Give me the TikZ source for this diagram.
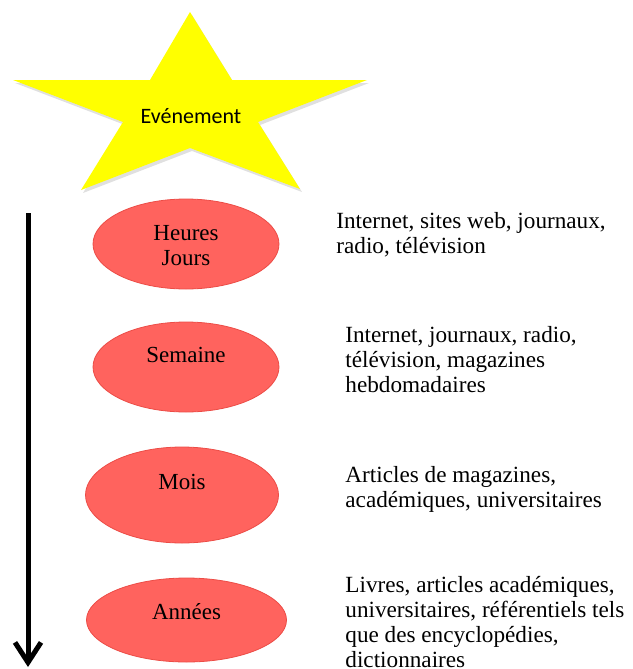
\documentclass[tikz,border=0pt]{standalone}
\usepackage{fontspec}
\setmainfont{Liberation Serif}
\newfontfamily\starfont{Carlito}
\usetikzlibrary{positioning,arrows.meta,shapes.geometric}
\definecolor{starfill}{RGB}{255,255,0}
\definecolor{periodfill}{RGB}{255,99,94}
\definecolor{periodline}{RGB}{236,76,70}

\begin{document}
\begin{tikzpicture}[x=0.5pt,y=-0.5pt,on grid,
  period/.style={ellipse,draw=periodline,fill=periodfill,line width=0.4pt,
    minimum width=93pt,minimum height=45pt,inner sep=0pt},
  tag/.style={align=center,inner sep=0pt,font=\fontsize{11.5}{12.5}\selectfont},
  source/.style={anchor=north west,align=left,inner sep=0pt,
    font=\fontsize{11.6}{12.5}\selectfont}]
\useasboundingbox (0,0) rectangle (632,669);
% star
\fill[black,opacity=.12,shift={(2,3)}] (190,12) -- (232,80) -- (367,80) -- (258,122) -- (300,189)
  -- (190,148) -- (81,190) -- (123,122) -- (13,80) -- (150,80) -- cycle;
\fill[starfill] (190,12) -- (232,80) -- (367,80) -- (258,122) -- (300,189)
  -- (190,148) -- (81,190) -- (123,122) -- (13,80) -- (150,80) -- cycle;
\node[font=\starfont\fontsize{11}{13}\selectfont,inner sep=0pt] (event) at (191,116) {Evénement};
% periods
\node[period] (hours) at (186,244) {};
\node[period,below=61.5pt of hours] (week) {};
\node[period,minimum width=96.5pt,minimum height=48pt,below=64pt of week,xshift=-2pt] (month) {};
\node[period,minimum width=100pt,minimum height=42pt,below=62.5pt of month,xshift=2.25pt] (years) {};
\node[tag] (hourstag) at (186,246) {Heures\\Jours};
\node[tag] (weektag) at (186,355) {Semaine};
\node[tag] (monthtag) at (182,481.5) {Mois};
\node[tag] (yearstag) at (186.5,611.5) {Années};
% sources
\node[source] (hoursmedia) at (336,212) {Internet, sites web, journaux,\\radio, télévision};
\node[source] (weekmedia) at (345,326) {Internet, journaux, radio,\\télévision, magazines\\hebdomadaires};
\node[source] (monthmedia) at (345,466) {Articles de magazines,\\académiques, universitaires};
\node[source] (yearsmedia) at (345,576) {Livres, articles académiques,\\universitaires, référentiels tels\\que des encyclopédies,\\dictionnaires};
% time axis
\coordinate (start) at (28,213);
\coordinate (stop) at (28,667);
\draw[line width=2.5pt,-{Straight Barb[length=10pt,width=13pt]}] (start) -- (stop);
\end{tikzpicture}
\end{document}
